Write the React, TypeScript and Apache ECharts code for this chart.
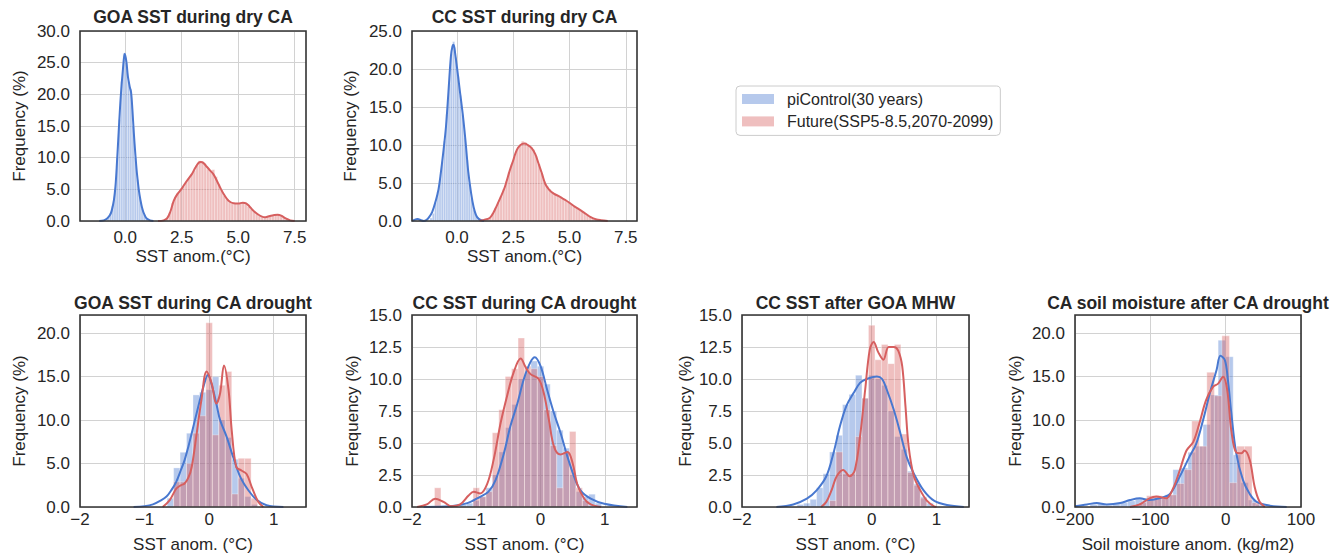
import React, { useEffect, useRef } from 'react';
import * as echarts from 'echarts';

const FONT = '"Liberation Sans", Arial, Helvetica, sans-serif';
const TEXT = '#262626';
const FRAME = '#333333';
const GRIDC = '#d2d2d2';
const BLUE = '#4878d0';
const RED = '#d65f5f';
const NAME_PI = 'piControl(30 years)';
const NAME_FU = 'Future(SSP5-8.5,2070-2099)';

const TITLES = [
  'GOA SST during dry CA',
  'CC SST during dry CA',
  'GOA SST during CA drought',
  'CC SST during CA drought',
  'CC SST after GOA MHW',
  'CA soil moisture after CA drought',
];
const X_NAMES = [
  'SST anom.(°C)',
  'SST anom.(°C)',
  'SST anom. (°C)',
  'SST anom. (°C)',
  'SST anom. (°C)',
  'Soil moisture anom. (kg/m2)',
];
const X_TICKS_TOP = [0, 2.5, 5, 7.5];

// histogram bins: [first edge, bin width] and heights (%)
const P1_BLUE_BIN = [-0.8, 0.1];
const P1_BLUE_H = [0.6, 1.2, 2.4, 4.8, 10, 16, 22, 26.5, 25, 22, 20.8, 15, 10, 6.5, 3.8, 2.0, 1.0, 0.4];
const P1_RED_BIN = [1.8, 0.12];
const P1_RED_H = [0.5, 1.3, 2.8, 3.8, 4.4, 5.0, 5.5, 6.2, 6.8, 7.4, 8.0, 8.8, 9.5, 9.4, 8.9, 8.2, 8.0, 8.1, 7.0, 5.8, 4.9, 4.0, 3.4, 3.0, 2.8, 2.8, 2.7, 2.8, 3.0, 2.8, 2.3, 1.9, 1.5, 1.1, 0.8, 0.6, 0.6, 0.7, 0.8, 0.9, 1.0, 1.0, 0.8, 0.5, 0.3, 0.1];

const P2_BLUE_BIN = [-1.2, 0.1];
const P2_BLUE_H = [0.4, 1.0, 2.4, 3.8, 5.5, 7.8, 10.5, 14, 18, 22, 23.6, 21.5, 19, 16.5, 14, 11, 8, 5, 3, 1.5, 0.7, 0.3];
const P2_RED_BIN = [1.3, 0.12];
const P2_RED_H = [0.3, 0.5, 1.0, 1.7, 2.4, 3.2, 4.2, 5.2, 6.4, 7.4, 8.5, 9.5, 10.0, 10.5, 10.3, 10.0, 9.7, 9.4, 8.5, 7.5, 6.3, 5.2, 4.6, 4.2, 3.8, 3.5, 3.3, 3.1, 2.9, 2.7, 2.5, 2.2, 2.0, 1.7, 1.5, 1.2, 1.0, 0.8, 0.6, 0.4, 0.3, 0.2, 0.1];

const P3_BIN = [-0.65, 0.1];
const P3_BLUE_H = [1.0, 4.5, 6.3, 8.5, 12.9, 13.2, 13.5, 15.0, 10.0, 8.0, 5.5, 3.3, 1.2, 0.3];
const P3_RED_H = [0, 2.9, 2.9, 5.0, 8.5, 10.5, 21.2, 8.3, 14.0, 15.6, 1.5, 5.6, 5.6, 1.0];

const P4_BIN = [-1.65, 0.1];
const P4_BLUE_H = [0, 0, 0, 0, 0.2, 0.3, 0.5, 0.8, 1.5, 2.5, 4.3, 6.2, 8.0, 10.0, 10.5, 11.4, 11.0, 9.6, 7.5, 6.0, 4.6, 2.5, 1.2, 0.8, 1.0, 0.3];
const P4_RED_H = [1.5, 0, 0, 0, 0, 0, 1.5, 0.8, 1.2, 5.8, 7.6, 10.2, 10.8, 13.2, 11.0, 10.8, 10.2, 7.6, 4.8, 1.5, 4.3, 5.9, 1.5, 0.5, 0, 0];

const P5_BIN = [-1.15, 0.1];
const P5_BLUE_H = [0.2, 0.3, 0.6, 1.5, 2.6, 4.3, 5.6, 8.0, 8.8, 10.3, 8.5, 10.3, 10.0, 9.5, 7.5, 5.5, 4.5, 2.8, 1.8, 0.8, 0.3];
const P5_RED_H = [0, 0, 0, 0, 0, 0.5, 4.3, 2.6, 2.6, 5.5, 8.5, 14.2, 11.5, 12.7, 11.2, 12.7, 5.7, 2.7, 1.7, 0.7, 0];

const P6_BLUE_BIN = [-180, 10];
const P6_BLUE_H = [0.3, 0.4, 0.2, 0.4, 0.5, 0.7, 1.0, 0.8, 0.9, 1.0, 1.4, 4.3, 4.5, 6.3, 7.0, 9.5, 12.9, 19.2, 17.3, 6.0, 2.8, 0.8, 0.3];
const P6_RED_BIN = [-115, 10];
const P6_RED_H = [0.5, 1.3, 1.3, 1.0, 1.4, 2.7, 4.3, 9.9, 7.0, 15.5, 12.8, 19.7, 2.8, 7.0, 7.0, 0.5];

// KDE curves: [x, density %]
const P1_BLUE_KDE = [[-1.15, 0], [-0.95, 0.1], [-0.8, 0.4], [-0.68, 0.9], [-0.6, 1.6], [-0.5, 3.3], [-0.43, 5.5], [-0.36, 9.5], [-0.29, 14], [-0.2, 19.5], [-0.1, 24], [-0.02, 26.4], [0.05, 25.2], [0.12, 22.8], [0.2, 21.2], [0.26, 20.3], [0.32, 17.5], [0.38, 14], [0.45, 10.5], [0.52, 7.5], [0.6, 5], [0.67, 3.4], [0.76, 1.9], [0.85, 1.0], [0.95, 0.4], [1.1, 0.1], [1.25, 0]];
const P1_RED_KDE = [[1.45, 0], [1.7, 0.1], [1.85, 0.4], [2.0, 1.5], [2.15, 3.2], [2.3, 4.2], [2.5, 5.1], [2.7, 6.2], [2.95, 7.4], [3.1, 8.4], [3.25, 9.2], [3.35, 9.3], [3.48, 9.1], [3.6, 8.6], [3.75, 8.0], [3.9, 7.4], [4.05, 6.4], [4.2, 5.3], [4.35, 4.3], [4.5, 3.5], [4.65, 3.0], [4.8, 2.8], [5.0, 2.75], [5.2, 2.9], [5.35, 2.8], [5.5, 2.3], [5.65, 1.7], [5.85, 1.1], [6.05, 0.7], [6.2, 0.6], [6.4, 0.8], [6.6, 0.95], [6.75, 1.0], [6.9, 0.85], [7.1, 0.4], [7.3, 0.1], [7.5, 0]];
const P2_BLUE_KDE = [[-2.0, 0], [-1.9, 0.15], [-1.75, 0.25], [-1.6, 0.1], [-1.48, 0], [-1.35, 0.15], [-1.24, 0.5], [-1.1, 1.2], [-0.94, 2.7], [-0.82, 4.2], [-0.72, 6.3], [-0.6, 9.3], [-0.49, 12.4], [-0.38, 17], [-0.27, 21.7], [-0.2, 23], [-0.15, 23.2], [-0.08, 22], [0.03, 19.5], [0.14, 16.8], [0.25, 14.2], [0.33, 12], [0.4, 9.8], [0.5, 6.5], [0.63, 3.6], [0.74, 1.8], [0.85, 0.75], [0.96, 0.3], [1.08, 0.1], [1.2, 0]];
const P2_RED_KDE = [[1.0, 0.05], [1.2, 0.15], [1.45, 0.4], [1.6, 1.0], [1.75, 1.9], [1.95, 3.2], [2.13, 4.5], [2.35, 6.7], [2.5, 8.0], [2.65, 9.3], [2.82, 10.0], [3.0, 10.2], [3.15, 10.0], [3.32, 9.6], [3.48, 8.8], [3.62, 7.6], [3.78, 6.2], [3.92, 4.9], [4.1, 4.1], [4.3, 3.6], [4.5, 3.3], [4.67, 3.0], [4.85, 2.7], [5.04, 2.3], [5.25, 1.85], [5.5, 1.4], [5.72, 0.95], [5.94, 0.5], [6.2, 0.2], [6.4, 0.1], [6.7, 0]];
const P3_BLUE_KDE = [[-1.17, 0], [-1.0, 0.1], [-0.87, 0.3], [-0.76, 0.7], [-0.66, 1.2], [-0.58, 2.0], [-0.51, 2.9], [-0.44, 4.2], [-0.38, 5.4], [-0.32, 7.0], [-0.27, 8.5], [-0.17, 11.5], [-0.09, 13.8], [-0.02, 15.2], [0.06, 13.5], [0.12, 11.6], [0.17, 10], [0.27, 8.1], [0.37, 5.8], [0.48, 3.5], [0.61, 1.9], [0.74, 0.8], [0.89, 0.2], [1.15, 0]];
const P3_RED_KDE = [[-0.72, 0], [-0.61, 0.8], [-0.51, 2.1], [-0.44, 2.5], [-0.38, 2.7], [-0.32, 3.4], [-0.27, 4.6], [-0.2, 8.1], [-0.12, 12.3], [-0.04, 15.6], [0.04, 14.2], [0.11, 11.9], [0.17, 13.1], [0.23, 16.3], [0.3, 13.5], [0.35, 8.8], [0.42, 4.6], [0.5, 4.2], [0.58, 3.8], [0.66, 2.3], [0.76, 0.6], [0.84, 0]];
const P4_BLUE_KDE = [[-1.82, 0], [-1.4, 0.05], [-1.14, 0.3], [-0.94, 0.8], [-0.81, 1.2], [-0.7, 2.1], [-0.57, 4.2], [-0.47, 6.3], [-0.36, 8.1], [-0.26, 10], [-0.16, 11.3], [-0.09, 11.7], [0, 11], [0.1, 9.2], [0.21, 7.3], [0.31, 5.8], [0.42, 3.9], [0.52, 2.4], [0.62, 1.3], [0.78, 0.65], [0.99, 0.25], [1.35, 0]];
const P4_RED_KDE = [[-1.92, 0], [-1.77, 0.2], [-1.64, 0.65], [-1.51, 0.4], [-1.38, 0.05], [-1.25, 0.2], [-1.12, 0.9], [-1.04, 1.2], [-0.94, 1.05], [-0.83, 1.8], [-0.73, 3.7], [-0.62, 6.6], [-0.52, 8.7], [-0.42, 10.5], [-0.31, 11.6], [-0.23, 10.9], [-0.16, 10.4], [-0.03, 10], [0.05, 8.9], [0.13, 6.8], [0.21, 4.7], [0.31, 4.1], [0.42, 4.3], [0.5, 3.4], [0.57, 1.8], [0.68, 0.65], [0.78, 0.2], [0.94, 0]];
const P5_BLUE_KDE = [[-1.47, 0], [-1.21, 0.2], [-1.0, 0.65], [-0.85, 1.3], [-0.7, 2.4], [-0.59, 4.2], [-0.49, 6.3], [-0.39, 7.9], [-0.28, 8.9], [-0.18, 9.7], [-0.08, 10], [0.08, 10.2], [0.16, 10], [0.23, 9.2], [0.34, 7.6], [0.44, 5.8], [0.54, 3.9], [0.65, 2.6], [0.8, 1.3], [0.96, 0.5], [1.16, 0.15], [1.42, 0]];
const P5_RED_KDE = [[-0.78, 0], [-0.7, 0.4], [-0.62, 1.3], [-0.54, 2.4], [-0.44, 2.9], [-0.34, 2.4], [-0.26, 2.9], [-0.18, 5.5], [-0.1, 9.2], [-0.03, 12.3], [0.03, 12.9], [0.1, 12.1], [0.18, 11.5], [0.26, 12.5], [0.34, 12.5], [0.41, 12.2], [0.47, 11], [0.52, 7.9], [0.57, 4.7], [0.65, 2.4], [0.75, 1.3], [0.85, 0.5], [0.96, 0.05], [1.0, 0]];
const P6_BLUE_KDE = [[-200, 0.08], [-184, 0.3], [-171, 0.45], [-158, 0.3], [-140, 0.45], [-127, 0.8], [-114, 1.0], [-101, 0.8], [-88, 1.0], [-74, 1.5], [-61, 3.5], [-48, 5.8], [-39, 7.3], [-30, 10], [-21, 13.1], [-12, 15.8], [-7, 17.4], [-1, 16.9], [3, 14.6], [7.5, 10.8], [14, 6.2], [23, 3.1], [32, 1.5], [41, 0.6], [59, 0.15], [81, 0]];
const P6_RED_KDE = [[-127, 0], [-114, 0.3], [-101, 1.0], [-92, 1.2], [-79, 1.0], [-70, 2.1], [-61, 4.2], [-52, 6.5], [-43, 7.5], [-35, 9.6], [-26, 12.3], [-17, 13.8], [-10, 14.2], [-3.5, 15.0], [2, 13.5], [7.5, 8.8], [14, 6.3], [21, 6.2], [25, 6.5], [32, 5.4], [38.5, 2.3], [45, 0.6], [52, 0]];

// layout (pixels)
const LAYOUT = [
  { left: 80, top: 31, width: 226, height: 190 },
  { left: 412, top: 31, width: 225, height: 190 },
  { left: 80, top: 315, width: 226, height: 192 },
  { left: 412, top: 315, width: 225, height: 192 },
  { left: 742, top: 315, width: 227, height: 192 },
  { left: 1075, top: 315, width: 226, height: 192 },
];
const Y_NAME_GAP = [52, 53, 52, 51, 48, 51];

const PANELS = [
  { blueBin: P1_BLUE_BIN, blueH: P1_BLUE_H, redBin: P1_RED_BIN, redH: P1_RED_H, blueKde: P1_BLUE_KDE, redKde: P1_RED_KDE, xMin: -2, xMax: 8, xInt: 0.5, yMax: 30, yInt: 5, top: true },
  { blueBin: P2_BLUE_BIN, blueH: P2_BLUE_H, redBin: P2_RED_BIN, redH: P2_RED_H, blueKde: P2_BLUE_KDE, redKde: P2_RED_KDE, xMin: -2, xMax: 8, xInt: 0.5, yMax: 25, yInt: 5, top: true },
  { blueBin: P3_BIN, blueH: P3_BLUE_H, redBin: P3_BIN, redH: P3_RED_H, blueKde: P3_BLUE_KDE, redKde: P3_RED_KDE, xMin: -2, xMax: 1.5, xInt: 1, yMax: 22.1, yInt: 5, top: false },
  { blueBin: P4_BIN, blueH: P4_BLUE_H, redBin: P4_BIN, redH: P4_RED_H, blueKde: P4_BLUE_KDE, redKde: P4_RED_KDE, xMin: -2, xMax: 1.5, xInt: 1, yMax: 15, yInt: 2.5, top: false },
  { blueBin: P5_BIN, blueH: P5_BLUE_H, redBin: P5_BIN, redH: P5_RED_H, blueKde: P5_BLUE_KDE, redKde: P5_RED_KDE, xMin: -2, xMax: 1.5, xInt: 1, yMax: 15, yInt: 2.5, top: false },
  { blueBin: P6_BLUE_BIN, blueH: P6_BLUE_H, redBin: P6_RED_BIN, redH: P6_RED_H, blueKde: P6_BLUE_KDE, redKde: P6_RED_KDE, xMin: -200, xMax: 100, xInt: 100, yMax: 22.1, yInt: 5, top: false },
];

function toBars(bin: number[], h: number[]) {
  return h.map((v, i) => [bin[0] + i * bin[1], bin[0] + (i + 1) * bin[1], v]);
}

function barRenderer(color: string) {
  return (_params: any, api: any) => {
    const h = api.value(2);
    if (!h) return null;
    const a = api.coord([api.value(0), h]);
    const b = api.coord([api.value(1), 0]);
    return {
      type: 'rect',
      shape: { x: a[0], y: a[1], width: b[0] - a[0], height: b[1] - a[1] },
      style: { fill: color, opacity: 0.4, stroke: '#ffffff', lineWidth: 0.8 },
    };
  };
}

const fmtMinus = (v: number) => (v < 0 ? '\u2212' + Math.abs(v) : String(v));

function buildOption() {
  const txt = { color: TEXT, fontFamily: FONT, fontSize: 17 };
  const grid = LAYOUT.map((g) => ({ ...g, show: false, containLabel: false, outerBoundsMode: 'none' }));
  const xAxis = PANELS.map((p, i) => ({
    gridIndex: i,
    type: 'value',
    min: p.xMin,
    max: p.xMax,
    interval: p.xInt,
    name: X_NAMES[i],
    nameLocation: 'middle',
    nameGap: p.top ? 27 : 29,
    nameTextStyle: txt,
    axisLine: { show: false },
    axisTick: { show: false },
    splitLine: { show: !p.top, lineStyle: { color: GRIDC, width: 1 } },
    axisLabel: {
      ...txt,
      lineHeight: 12,
      margin: p.top ? 10.5 : 6.5,
      showMinLabel: true,
      showMaxLabel: i === 5,
      formatter: p.top
        ? (v: number) => (X_TICKS_TOP.some((t) => Math.abs(t - v) < 1e-6) ? v.toFixed(1) : '')
        : (v: number) => fmtMinus(v),
    },
  }));
  const yAxis = PANELS.map((p, i) => ({
    gridIndex: i,
    type: 'value',
    min: 0,
    max: p.yMax,
    interval: p.yInt,
    name: 'Frequency (%)',
    nameLocation: 'middle',
    nameGap: Y_NAME_GAP[i],
    nameTextStyle: txt,
    axisLine: { show: false },
    axisTick: { show: false },
    splitLine: { show: true, lineStyle: { color: GRIDC, width: 1 } },
    axisLabel: {
      ...txt,
      lineHeight: 12,
      margin: 10,
      showMinLabel: true,
      showMaxLabel: Number.isInteger(p.yMax / p.yInt),
      formatter: (v: number) => v.toFixed(1),
    },
  }));
  const series: any[] = [];
  PANELS.forEach((p, i) => {
    series.push({
      type: 'custom',
      name: NAME_PI,
      xAxisIndex: i,
      yAxisIndex: i,
      renderItem: barRenderer(BLUE),
      encode: { x: [0, 1], y: 2 },
      data: toBars(p.blueBin, p.blueH),
      itemStyle: { color: '#b6c9ec' },
      silent: true,
      z: 2,
    });
    series.push({
      type: 'custom',
      name: NAME_FU,
      xAxisIndex: i,
      yAxisIndex: i,
      renderItem: barRenderer(RED),
      encode: { x: [0, 1], y: 2 },
      data: toBars(p.redBin, p.redH),
      itemStyle: { color: '#efbfbf' },
      silent: true,
      z: 2,
    });
    const blueLine: any = {
      type: 'line',
      name: 'kde-blue-' + i,
      xAxisIndex: i,
      yAxisIndex: i,
      data: p.blueKde,
      smooth: 0.35,
      symbol: 'none',
      showSymbol: false,
      lineStyle: { color: BLUE, width: 2 },
      itemStyle: { color: BLUE },
      silent: true,
      z: 3,
    };
    if (p.top) {
      blueLine.markLine = {
        silent: true,
        symbol: 'none',
        z: 1,
        label: { show: false },
        lineStyle: { color: GRIDC, width: 1, type: 'solid' },
        data: X_TICKS_TOP.map((v) => ({ xAxis: v })),
      };
    }
    series.push(blueLine);
    series.push({
      type: 'line',
      name: 'kde-red-' + i,
      xAxisIndex: i,
      yAxisIndex: i,
      data: p.redKde,
      smooth: 0.35,
      symbol: 'none',
      showSymbol: false,
      lineStyle: { color: RED, width: 2 },
      itemStyle: { color: RED },
      silent: true,
      z: 3,
    });
  });

  const title = TITLES.map((t, i) => ({
    text: t,
    left: LAYOUT[i].left + LAYOUT[i].width / 2,
    top: i < 2 ? 8 : 294,
    textAlign: 'center',
    padding: 0,
    textStyle: { color: TEXT, fontFamily: FONT, fontSize: 17.5, fontWeight: 'bold' },
  }));

  return {
    animation: false,
    backgroundColor: '#ffffff',
    textStyle: { fontFamily: FONT },
    title,
    grid,
    xAxis,
    yAxis,
    series,
    legend: {
      left: 736,
      top: 86,
      orient: 'vertical',
      selectedMode: false,
      itemWidth: 32,
      itemHeight: 10,
      itemGap: 6.4,
      padding: [5, 7, 6, 6],
      borderColor: '#cccccc',
      borderWidth: 1,
      borderRadius: 4,
      backgroundColor: '#ffffff',
      textStyle: { fontSize: 16, color: TEXT, fontFamily: FONT, padding: [0, 0, 0, 8] },
      data: [
        { name: NAME_PI, icon: 'rect', itemStyle: { color: '#b6c9ec', borderWidth: 0 } },
        { name: NAME_FU, icon: 'rect', itemStyle: { color: '#efbfbf', borderWidth: 0 } },
      ],
    },
    graphic: {
      elements: LAYOUT.map((g) => ({
        type: 'rect',
        silent: true,
        z: 100,
        shape: { x: g.left, y: g.top, width: g.width, height: g.height },
        style: { fill: 'none', stroke: FRAME, lineWidth: 1.6 },
      })),
    },
  };
}

export default function App() {
  const ref = useRef<HTMLDivElement>(null);
  useEffect(() => {
    if (!ref.current) return;
    const chart = echarts.init(ref.current, undefined, { renderer: 'svg' });
    chart.setOption(buildOption() as any);
    return () => chart.dispose();
  }, []);
  return <div ref={ref} style={{ position: 'fixed', left: 0, top: 0, width: 1341, height: 556 }} />;
}
